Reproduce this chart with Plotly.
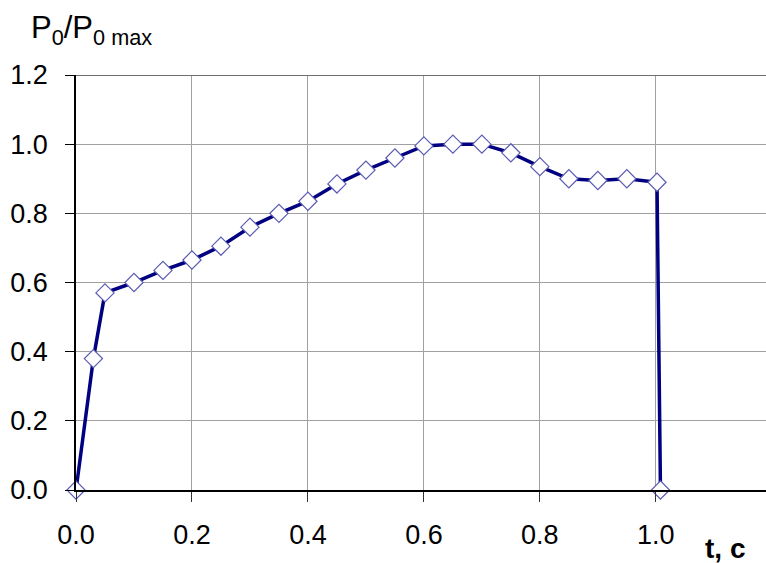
import plotly.graph_objects as go

# Время, с
t = [0, 0.03, 0.05, 0.1, 0.15, 0.2, 0.25, 0.3, 0.35, 0.4, 0.45, 0.5,
     0.55, 0.6, 0.65, 0.7, 0.75, 0.8, 0.85, 0.9, 0.95, 1.002, 1.008]
# Относительное давление P0/P0max
p_rel = [0.0, 0.38, 0.57, 0.60, 0.635, 0.665, 0.705, 0.76, 0.80, 0.835, 0.885, 0.925,
         0.96, 0.995, 1.0, 1.0, 0.975, 0.935, 0.90, 0.895, 0.90, 0.89, 0.0]

x_ticks = [0.0, 0.2, 0.4, 0.6, 0.8, 1.0]
y_ticks = [0.0, 0.2, 0.4, 0.6, 0.8, 1.0, 1.2]

fig = go.Figure()

fig.add_trace(go.Scatter(x=t, y=p_rel, mode="lines+markers",
                         line=dict(color="#000080", width=3.5),
                         marker=dict(symbol="diamond", size=14, color="white",
                                     line=dict(color="#5a5ab4", width=1.2)),
                         cliponaxis=False))

# верхняя граница области графика
fig.add_shape(type="line", xref="paper", yref="y", x0=0, x1=1, y0=1.2, y1=1.2,
              line=dict(color="#6e6e6e", width=2))

fig.add_annotation(text="P<sub>0</sub>/P<sub>0 max</sub>", xref="paper", yref="paper",
                   x=-0.068, y=1.108, xanchor="left", yanchor="middle", showarrow=False,
                   font=dict(size=31, color="black"))
fig.add_annotation(text="<b>t, c</b>", xref="paper", yref="paper",
                   x=0.908, y=-0.14, xanchor="left", yanchor="middle", showarrow=False,
                   font=dict(size=28, color="black"))

fig.update_layout(
    width=766, height=563,
    margin=dict(l=76, r=0, t=75, b=73),
    paper_bgcolor="white", plot_bgcolor="white",
    showlegend=False,
    font=dict(family="Liberation Sans, Arial", size=27, color="black"),
    xaxis=dict(range=[0, 1.19], tickvals=x_ticks, tickformat=".1f",
               showgrid=True, gridcolor="#a0a0a0", gridwidth=1,
               showline=True, linecolor="black", linewidth=1.5,
               ticks="outside", ticklen=10, tickcolor="#333333",
               zeroline=False, ticklabelstandoff=10, automargin=False),
    yaxis=dict(range=[0, 1.2], tickvals=y_ticks, tickformat=".1f",
               showgrid=True, gridcolor="#a0a0a0", gridwidth=1,
               showline=True, linecolor="black", linewidth=1.5,
               ticks="outside", ticklen=9, tickcolor="black",
               zeroline=False, ticklabelstandoff=12, automargin=False),
)

# убираем отступы страницы, чтобы график занял всё окно
fig.write_html("out.html", config={"displayModeBar": False},
               post_script="document.body.style.margin='0';")
